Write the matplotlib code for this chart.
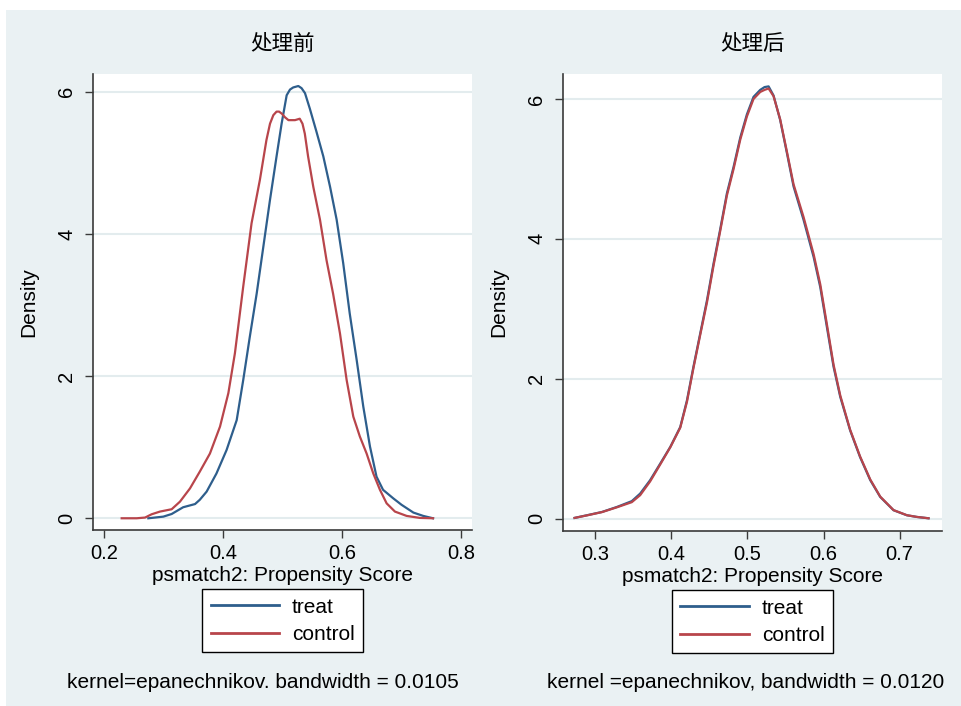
import matplotlib
matplotlib.use("Agg")
import matplotlib.pyplot as plt
from matplotlib.patches import Rectangle

plt.rcParams['font.family'] = ['Liberation Sans', 'Noto Sans CJK SC', 'DejaVu Sans']

# ---------------- data ----------------
titles = ["处理前", "处理后"]
notes = ["kernel=epanechnikov. bandwidth = 0.0105",
         "kernel =epanechnikov, bandwidth = 0.0120"]
series_names = ["treat", "control"]
xlabel = "psmatch2: Propensity Score"
ylabel = "Density"

# Before matching
before_treat_x = [0.2745, 0.2997, 0.3137, 0.333, 0.353, 0.361, 0.3725, 0.389, 0.406, 0.423,
                  0.434, 0.445, 0.4566, 0.4678, 0.479, 0.490, 0.4986, 0.507, 0.5126, 0.518,
                  0.5266, 0.532, 0.5378, 0.546, 0.557, 0.5686, 0.580, 0.591, 0.602, 0.613,
                  0.6246, 0.6358, 0.647, 0.658, 0.669, 0.6862, 0.700, 0.720, 0.7366, 0.753]
before_treat_y = [0.0, 0.023, 0.06, 0.155, 0.20, 0.26, 0.375, 0.63, 0.96, 1.38,
                  1.945, 2.55, 3.16, 3.82, 4.48, 5.09, 5.555, 5.95, 6.03, 6.06,
                  6.08, 6.05, 5.98, 5.76, 5.44, 5.09, 4.66, 4.2, 3.59, 2.88,
                  2.23, 1.57, 1.01, 0.586, 0.40, 0.28, 0.19, 0.08, 0.033, 0.0]
before_ctrl_x = [0.2297, 0.255, 0.269, 0.280, 0.294, 0.3137, 0.3277, 0.3445, 0.361, 0.378,
                 0.395, 0.409, 0.420, 0.434, 0.448, 0.462, 0.473, 0.479, 0.4846, 0.490,
                 0.4943, 0.499, 0.5042, 0.510, 0.521, 0.529, 0.5336, 0.5375, 0.543, 0.5518,
                 0.563, 0.574, 0.585, 0.5966, 0.6078, 0.619, 0.630, 0.6414, 0.6526, 0.6638,
                 0.675, 0.689, 0.7087, 0.731, 0.753]
before_ctrl_y = [0.0, 0.0, 0.01, 0.056, 0.094, 0.127, 0.234, 0.42, 0.656, 0.91,
                 1.29, 1.76, 2.32, 3.26, 4.15, 4.76, 5.32, 5.55, 5.67, 5.72,
                 5.72, 5.69, 5.64, 5.60, 5.60, 5.62, 5.55, 5.41, 5.09, 4.66,
                 4.2, 3.63, 3.16, 2.6, 1.945, 1.43, 1.15, 0.91, 0.63, 0.40,
                 0.21, 0.094, 0.033, 0.005, 0.0]

# After matching
after_treat_x = [0.2728, 0.289, 0.3088, 0.3285, 0.348, 0.359, 0.372, 0.3854, 0.3986, 0.4117,
                 0.4205, 0.429, 0.438, 0.4468, 0.4555, 0.464, 0.473, 0.4818, 0.4906, 0.4993,
                 0.508, 0.5168, 0.5225, 0.5278, 0.5343, 0.543, 0.552, 0.5606, 0.5738, 0.587,
                 0.5957, 0.6044, 0.6132, 0.622, 0.635, 0.648, 0.6614, 0.6745, 0.692, 0.7095,
                 0.7227, 0.738]
after_treat_y = [0.01, 0.048, 0.095, 0.167, 0.25, 0.358, 0.548, 0.787, 1.025, 1.31,
                 1.69, 2.17, 2.65, 3.12, 3.65, 4.125, 4.65, 5.03, 5.45, 5.78,
                 6.03, 6.13, 6.17, 6.18, 6.05, 5.70, 5.22, 4.75, 4.27, 3.74,
                 3.31, 2.74, 2.17, 1.74, 1.26, 0.88, 0.55, 0.31, 0.12, 0.048,
                 0.024, 0.005]
after_ctrl_x = [0.2728, 0.289, 0.3088, 0.3285, 0.348, 0.359, 0.372, 0.3854, 0.3986, 0.4117,
                0.4205, 0.429, 0.438, 0.4468, 0.4555, 0.464, 0.473, 0.4818, 0.4906, 0.4993,
                0.508, 0.5168, 0.5225, 0.5278, 0.5343, 0.543, 0.552, 0.5606, 0.5738, 0.587,
                0.5957, 0.6044, 0.6132, 0.622, 0.635, 0.648, 0.6614, 0.6745, 0.692, 0.7095,
                0.7227, 0.738]
after_ctrl_y = [0.01, 0.046, 0.093, 0.162, 0.235, 0.335, 0.53, 0.775, 1.02, 1.30,
                1.67, 2.15, 2.63, 3.09, 3.62, 4.10, 4.62, 5.00, 5.42, 5.75,
                6.00, 6.10, 6.13, 6.15, 6.04, 5.71, 5.24, 4.78, 4.31, 3.78,
                3.35, 2.78, 2.20, 1.76, 1.27, 0.89, 0.56, 0.315, 0.122, 0.049,
                0.024, 0.005]

left_xticks = [0.2, 0.4, 0.6, 0.8]
right_xticks = [0.3, 0.4, 0.5, 0.6, 0.7]
yticks = [0, 2, 4, 6]

# ---------------- style ----------------
BG = "#eaf1f3"
GRID = "#e3ecee"
AX = "#3a3a3a"
BLUE = "#2e5e8c"
RED = "#b8454b"

W, H = 962, 706
fig = plt.figure(figsize=(W / 100, H / 100), dpi=100)
fig.patch.set_facecolor("white")
fig.patches.append(Rectangle((6 / W, 0), 1, 1 - 10 / H, transform=fig.transFigure,
                             facecolor=BG, edgecolor="none", zorder=-10))

def px_box(x0, y0, x1, y1):
    return [x0 / W, 1 - y1 / H, (x1 - x0) / W, (y1 - y0) / H]

panels = [
    dict(box=px_box(93, 74, 472, 530), xlim=(0.1815, 0.8185), ylim=(-0.165, 6.249),
         xticks=left_xticks, data=[(before_treat_x, before_treat_y), (before_ctrl_x, before_ctrl_y)],
         note_x=263),
    dict(box=px_box(563, 74, 942, 531), xlim=(0.2576, 0.7557), ylim=(-0.177, 6.357),
         xticks=right_xticks, data=[(after_treat_x, after_treat_y), (after_ctrl_x, after_ctrl_y)],
         note_x=746),
]

FS = 14.5
for i, p in enumerate(panels):
    ax = fig.add_axes(p["box"])
    ax.set_facecolor("white")
    (tx, ty), (cx, cy) = p["data"]
    ax.plot(tx, ty, color=BLUE, lw=1.6, label=series_names[0], zorder=3)
    ax.plot(cx, cy, color=RED, lw=1.6, label=series_names[1], zorder=3)
    ax.set_xlim(*p["xlim"])
    ax.set_ylim(*p["ylim"])
    ax.set_xticks(p["xticks"])
    ax.set_xticklabels([f"{v:g}" for v in p["xticks"]])
    ax.set_yticks(yticks)
    ax.set_yticklabels([str(v) for v in yticks], rotation=90, va="center")
    for s in ["top", "right"]:
        ax.spines[s].set_visible(False)
    for s in ["left", "bottom"]:
        ax.spines[s].set_color(AX)
        ax.spines[s].set_linewidth(1.2)
    ax.tick_params(axis="both", colors=AX, labelcolor="black", labelsize=FS,
                   length=6, width=1.0, direction="out")
    ax.tick_params(axis="y", pad=6)
    ax.tick_params(axis="x", pad=4)
    ax.yaxis.grid(True, color=GRID, lw=1.5, zorder=0)
    ax.set_axisbelow(True)
    ax.set_xlabel(xlabel, fontsize=15, labelpad=2)
    ax.set_ylabel(ylabel, fontsize=15, labelpad=14)
    x0, y0, w, h = p["box"]
    fig.text(x0 + w / 2, 1 - 44 / H, titles[i], ha="center", va="center", fontsize=15.5,
             family=['Noto Sans CJK SC', 'DejaVu Sans'])
    leg = ax.legend(loc="upper center", bbox_to_anchor=(0.5, -0.13), frameon=True,
                    fancybox=False, edgecolor="black", facecolor="white", framealpha=1,
                    fontsize=15, handlelength=3.3, handletextpad=0.6, borderpad=0.4,
                    labelspacing=0.4, borderaxespad=0)
    leg.get_frame().set_linewidth(1.0)
    for line in leg.get_lines():
        line.set_linewidth(2.0)
    fig.text(p["note_x"] / W, 1 - 683 / H, notes[i], ha="center", va="center", fontsize=15)

fig.savefig("out.png", dpi=100, facecolor=fig.get_facecolor())
